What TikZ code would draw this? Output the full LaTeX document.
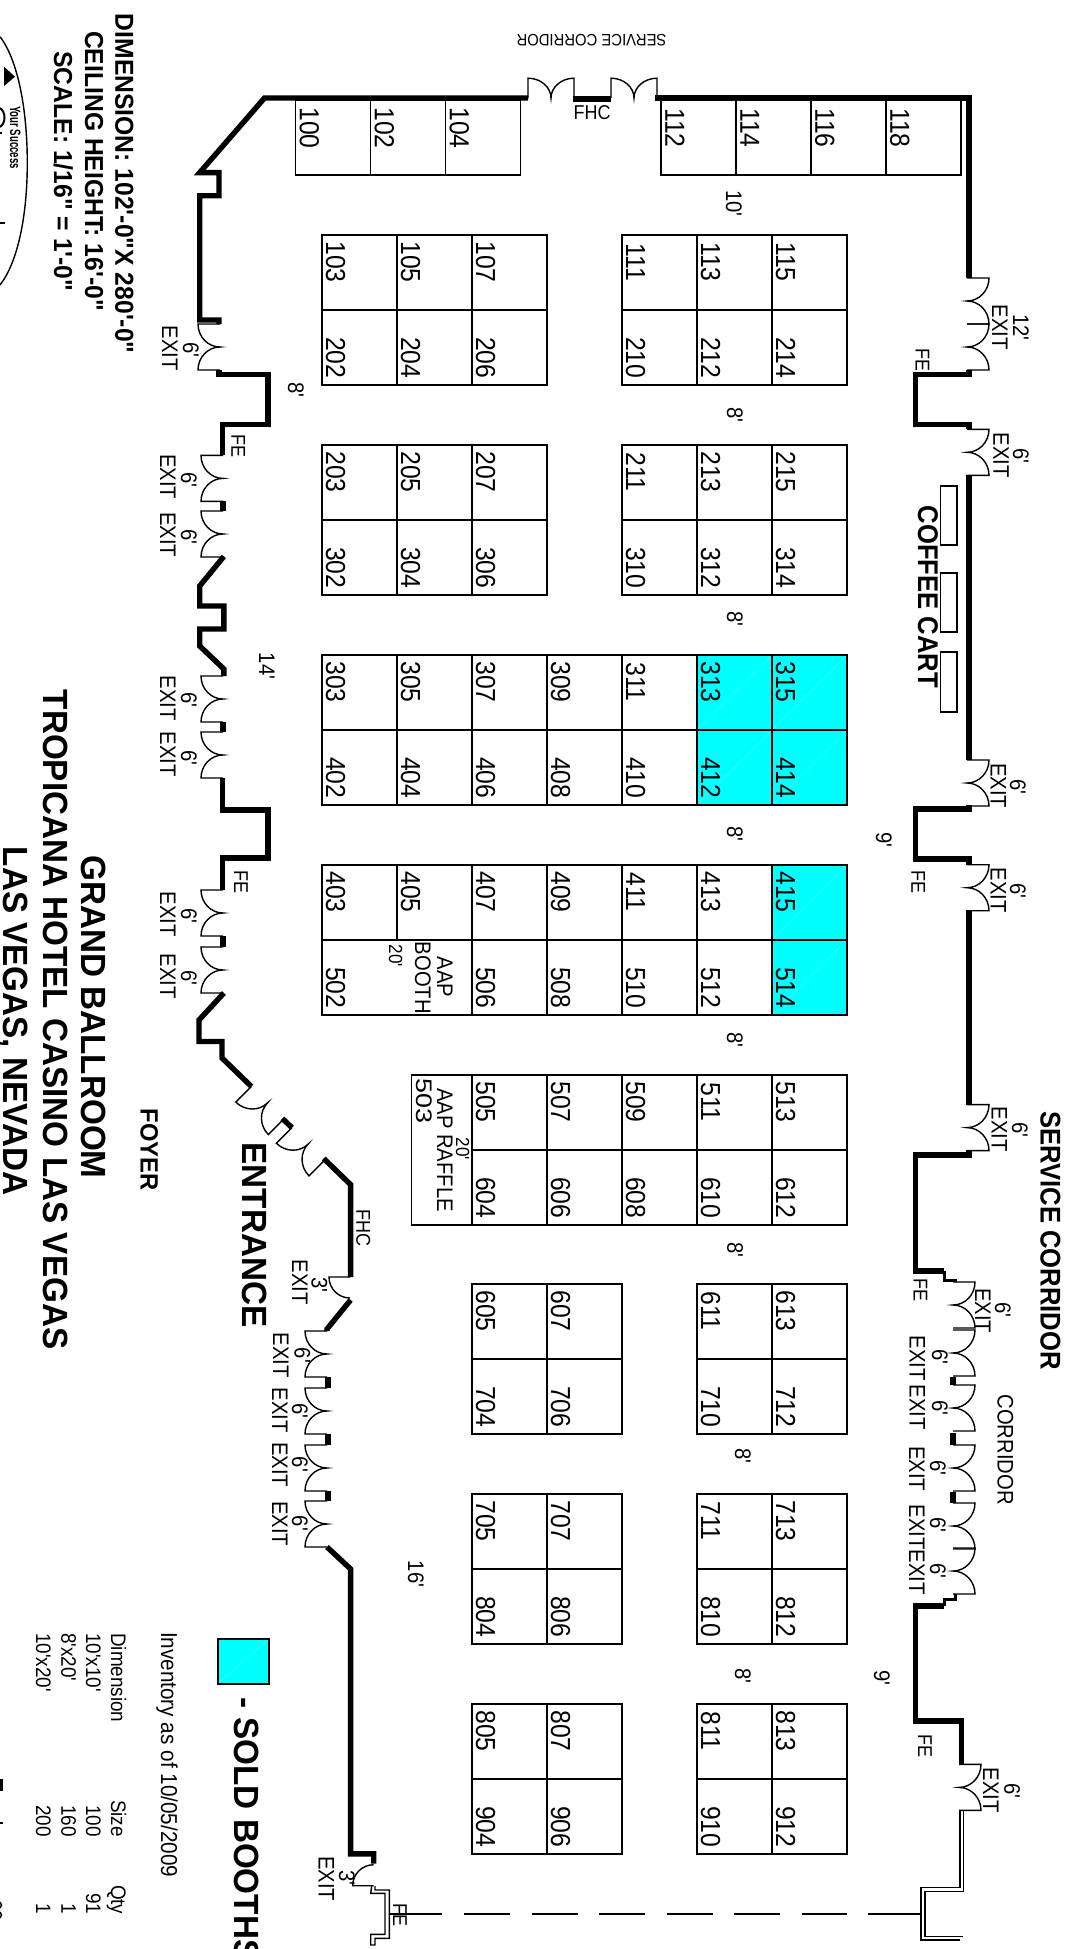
\documentclass[tikz,border=0pt]{standalone}
\usepackage{fontspec}
\newfontfamily\plansans[FakeStretch=0.9]{Liberation Sans}
\newfontfamily\headsans[FakeStretch=0.95]{Liberation Sans}
\newfontfamily\logosans[FakeStretch=0.64]{Liberation Sans}
\definecolor{soldcyan}{RGB}{0,255,255}
\tikzset{
  wall/.style={line width=5.4pt},
  doorline/.style={line width=1.4pt},
  thinwall/.style={line width=1.4pt},
  boothline/.style={line width=1.9pt},
  lbl/.style={rotate=-90,anchor=base,inner sep=0pt,font=\plansans\fontsize{22.5}{22.5}\selectfont},
  boothnum/.style={lbl,font=\plansans\fontsize{27.5}{27.5}\selectfont},
  tablelbl/.style={lbl,font=\plansans\fontsize{21}{21}\selectfont},
  headlbl/.style={lbl,font=\headsans\bfseries\fontsize{26}{26}\selectfont},
  titlelbl/.style={lbl,font=\headsans\bfseries\fontsize{35}{35}\selectfont},
  cartlbl/.style={lbl,font=\plansans\bfseries\fontsize{28.5}{28.5}\selectfont},
  exitdoor/.pic={
    \draw[doorline] (0,0) -- (-22,0) .. controls (-22,12.7) and (-12.1,23) .. (0,23)
      .. controls (-12.1,23) and (-22,33.3) .. (-22,46) -- (0,46);
  },
  singledoor/.pic={
    \draw[doorline] (0,0) -- (-21,0) .. controls (-21,11.6) and (-11.6,21) .. (0,21);
  }
}
\begin{document}
\begin{tikzpicture}[x=1pt,y=-1pt]
  \useasboundingbox (0,0) rectangle (1071,1949);

  % Define a pair of booths and a sold cell
  \def\boothpair#1#2#3#4{
    \draw[boothline] (#1,#2) rectangle ++(75,150);
    \draw[boothline] (#1,#2+75) -- ++(75,0);
    \node[boothnum] (b#3) at (#1+4,#2+27) {#3};
    \node[boothnum] (b#4) at (#1+4,#2+122.8) {#4};
  }
  \def\soldcell#1#2{
    \fill[soldcyan] (#1,#2) rectangle ++(75,75);
    \draw[soldcyan!70!white,line width=0.5pt] (#1,#2+75) -- ++(75,-75);
  }
  \def\topbooth#1#2{
    \draw[boothline] (#1,100) rectangle ++(75,75);
    \node[boothnum] (b#2) at (#1+4.3,128) {#2};
  }

  % Sold booths
  \soldcell{697}{655} \soldcell{772}{655}
  \soldcell{697}{730} \soldcell{772}{730}
  \soldcell{772}{865} \soldcell{772}{940}

  % Booths along the top wall
  \topbooth{295.5}{100} \topbooth{370.5}{102} \topbooth{445.5}{104}
  \topbooth{661}{112} \topbooth{736}{114} \topbooth{811}{116} \topbooth{886}{118}

  % First block
  \boothpair{322}{235}{103}{202} \boothpair{397}{235}{105}{204} \boothpair{472}{235}{107}{206}
  \boothpair{622}{235}{111}{210} \boothpair{697}{235}{113}{212} \boothpair{772}{235}{115}{214}
  % Second block
  \boothpair{322}{445}{203}{302} \boothpair{397}{445}{205}{304} \boothpair{472}{445}{207}{306}
  \boothpair{622}{445}{211}{310} \boothpair{697}{445}{213}{312} \boothpair{772}{445}{215}{314}
  % Third block
  \boothpair{322}{655}{303}{402} \boothpair{397}{655}{305}{404} \boothpair{472}{655}{307}{406}
  \boothpair{547}{655}{309}{408} \boothpair{622}{655}{311}{410} \boothpair{697}{655}{313}{412}
  \boothpair{772}{655}{315}{414}
  % Fourth block, with the AAP booth
  \draw[boothline] (322,865) rectangle (472,1015);
  \draw[boothline] (322,940) -- (472,940);
  \draw[boothline] (397,865) -- (397,940);
  \node[boothnum] (b403) at (326,892) {403};
  \node[boothnum] (b405) at (401,892) {405};
  \node[boothnum] (b502) at (326,987.8) {502};
  \node[lbl] (aapA) at (437,977) {AAP};
  \node[lbl] (aapB) at (415,977.8) {BOOTH};
  \node[lbl,font=\plansans\fontsize{19}{19}\selectfont] (aapC) at (389,956) {20'};
  \boothpair{472}{865}{407}{506} \boothpair{547}{865}{409}{508} \boothpair{622}{865}{411}{510}
  \boothpair{697}{865}{413}{512} \boothpair{772}{865}{415}{514}
  % Fifth block, with the raffle booth
  \draw[boothline] (411.5,1075) rectangle (472,1225);
  \node[lbl] (rafA) at (437,1150) {AAP RAFFLE};
  \node[lbl] (rafB) at (416.7,1101.4) {\scalebox{1.33}[1]{503}};
  \node[lbl,font=\plansans\fontsize{19}{19}\selectfont] (rafC) at (456,1149) {20'};
  \boothpair{472}{1075}{505}{604} \boothpair{547}{1075}{507}{606} \boothpair{622}{1075}{509}{608}
  \boothpair{697}{1075}{511}{610} \boothpair{772}{1075}{513}{612}
  % Last three blocks
  \boothpair{472}{1284}{605}{704} \boothpair{547}{1284}{607}{706}
  \boothpair{697}{1284}{611}{710} \boothpair{772}{1284}{613}{712}
  \boothpair{472}{1494}{705}{804} \boothpair{547}{1494}{707}{806}
  \boothpair{697}{1494}{711}{810} \boothpair{772}{1494}{713}{812}
  \boothpair{472}{1704}{805}{904} \boothpair{547}{1704}{807}{906}
  \boothpair{697}{1704}{811}{910} \boothpair{772}{1704}{813}{912}

  % Left side of the ballroom wall
  \draw[wall] (528,98) -- (264.5,98) -- (199.7,172.6) -- (219,172.6) -- (219,195.7)
    -- (199.7,195.7) -- (199.7,320) -- (219,320) -- (219,324);
  \draw[wall] (219,370.4) -- (219,374.6) -- (268,374.6) -- (268,424.3)
    -- (222.5,424.3) -- (222.5,455.4);
  \draw[wall] (223,501) -- (223,511);
  \draw[wall] (223.9,556.4) -- (199.7,586) -- (199.7,606) -- (223.9,606) -- (223.9,629)
    -- (199.7,629) -- (199.7,646) -- (223.9,669) -- (223.9,676);
  \draw[wall] (223,722) -- (223,732);
  \draw[wall] (222.5,778) -- (222.5,810) -- (268,810) -- (268,858) -- (222.5,858) -- (222.5,890);
  \draw[wall] (223,936) -- (223,947);
  \draw[wall] (223.9,993) -- (199,1020) -- (199,1041.5) -- (222,1041.5) -- (222,1058) -- (251.4,1086.5);
  \draw[wall] (282.4,1118.5) -- (292,1127.7);
  \draw[wall] (323.7,1158.5) -- (350.6,1184.6) -- (350.6,1277);
  \draw[wall] (350.6,1300) -- (327,1329) -- (327,1331);
  \draw[wall] (328,1377) -- (328,1388);
  \draw[wall] (328,1434) -- (328,1445);
  \draw[wall] (328,1491) -- (328,1501);
  \draw[wall] (327,1547) -- (350.6,1569) -- (350.6,1853.8) -- (373.7,1853.8) -- (373.7,1863.7);

  % Right side of the ballroom wall
  \draw[wall] (655,98) -- (969,98) -- (969,278);
  \draw[wall] (969,370.4) -- (969,374.6) -- (915.7,374.6) -- (915.7,424.3) -- (969,424.3) -- (969,429.3);
  \draw[wall] (969,474.8) -- (969,760);
  \draw[wall] (969,805) -- (969,809) -- (915.7,809) -- (915.7,859) -- (969,859) -- (969,864.7);
  \draw[wall] (969,910) -- (969,1104.6);
  \draw[wall] (969,1150) -- (969,1155) -- (915.7,1155) -- (915.7,1271) -- (944,1271);
  \draw[line width=3pt] (944,1271) -- (944,1280) -- (955,1280) -- (955,1282);
  \draw[wall] (953,1377) -- (953,1385);
  \draw[wall] (953,1433) -- (953,1445);
  \draw[wall] (953,1492) -- (953,1503);
  \draw[line width=3pt] (955,1594) -- (955,1599) -- (944,1599) -- (944,1606);
  \draw[wall] (944,1606) -- (915.7,1606) -- (915.7,1721) -- (961.3,1721) -- (961.3,1764.4);
  \draw[wall] (573,99) -- (611,99);

  % Double thin walls at the far end
  \draw[thinwall] (960,1810) -- (960,1887.7) -- (921,1887.7) -- (921,1940) -- (960,1940);
  \draw[thinwall] (963.3,1810) -- (963.3,1891.7) -- (925,1891.7) -- (925,1936.7) -- (963.3,1936.7);
  \draw[thinwall] (371.7,1886) -- (370.7,1893.3) -- (385,1893.3) -- (385,1934.3) -- (370.7,1934.3)
    -- (370.7,1945) -- (375,1945) -- (375,1938.3) -- (389.3,1938.3) -- (389.3,1890) -- (375,1890) -- (375,1886);

  % Dashed line across the room
  \draw[thinwall] (389.3,1914) -- (442,1914);
  \draw[thinwall,dash pattern=on 46pt off 21.6pt] (464,1914) -- (847,1914);
  \draw[thinwall] (868,1914) -- (921,1914);

  % Doors along the top wall
  \pic[rotate=90,xscale=-0.9] at (528,98) {exitdoor};
  \pic[rotate=90,xscale=-0.9] at (611,98) {exitdoor};
  % Doors along the left wall
  \pic at (220,324) {exitdoor};
  \pic at (223,455.4) {exitdoor};
  \pic at (223,511) {exitdoor};
  \pic at (223,676) {exitdoor};
  \pic at (223,732) {exitdoor};
  \pic at (223,890) {exitdoor};
  \pic at (223,947) {exitdoor};
  \pic[rotate=45] at (251.4,1086.5) {exitdoor};
  \pic[rotate=45] at (292,1127.7) {exitdoor};
  \pic at (350,1277) {singledoor};
  \pic at (327,1331) {exitdoor};
  \pic at (327,1388) {exitdoor};
  \pic at (327,1445) {exitdoor};
  \pic at (327,1501) {exitdoor};
  \pic[yscale=-1] at (373.7,1885.7) {singledoor};
  % Doors along the right wall
  \pic[xscale=-1] at (967,278) {exitdoor};
  \pic[xscale=-1] at (967,324) {exitdoor};
  \pic[xscale=-1] at (967,429.3) {exitdoor};
  \pic[xscale=-1] at (967,760) {exitdoor};
  \pic[xscale=-1] at (967,864.7) {exitdoor};
  \pic[xscale=-1] at (967,1104.6) {exitdoor};
  \pic[xscale=-1] at (953,1282) {exitdoor};
  \pic[xscale=-1] at (953,1330) {exitdoor};
  \pic[xscale=-1] at (953,1385) {exitdoor};
  \pic[xscale=-1] at (953,1445) {exitdoor};
  \pic[xscale=-1] at (953,1503) {exitdoor};
  \pic[xscale=-1] at (953,1548) {exitdoor};
  \pic[xscale=-1] at (959,1764.4) {exitdoor};

  % Coffee carts
  \draw[doorline] (940.6,486) rectangle (956.8,545);
  \draw[doorline] (940.6,573) rectangle (956.8,632);
  \draw[doorline] (940.6,652) rectangle (956.8,712);
  \node[cartlbl] (cart) at (918,597) {COFFEE CART};

  % Exit labels on the left
  \node[lbl] (e1) at (162,348) {EXIT};      \node[lbl] (d1) at (183,350) {6'};
  \node[lbl] (e2) at (160,476.7) {EXIT};    \node[lbl] (d2) at (181,479.8) {6'};
  \node[lbl] (e3) at (160,534.5) {EXIT};    \node[lbl] (d3) at (181,537) {6'};
  \node[lbl] (e4) at (160,698.4) {EXIT};    \node[lbl] (d4) at (181,700) {6'};
  \node[lbl] (e5) at (160,754) {EXIT};      \node[lbl] (d5) at (181,757.8) {6'};
  \node[lbl] (e6) at (160,914) {EXIT};      \node[lbl] (d6) at (181,915.7) {6'};
  \node[lbl] (e7) at (160,976) {EXIT};      \node[lbl] (d7) at (181,978) {6'};
  \node[lbl] (e8) at (292,1282) {EXIT};     \node[lbl] (d8) at (311.7,1285) {3'};
  \node[lbl] (e9) at (273,1355) {EXIT};     \node[lbl] (d9) at (294.5,1355.5) {6'};
  \node[lbl] (e10) at (272,1410) {EXIT};    \node[lbl] (d10) at (292,1411) {6'};
  \node[lbl] (e11) at (272,1464.6) {EXIT};  \node[lbl] (d11) at (292,1464.5) {6'};
  \node[lbl] (e12) at (272,1523.7) {EXIT};  \node[lbl] (d12) at (292,1523.5) {6'};
  \node[lbl] (e13) at (318.6,1878.6) {EXIT}; \node[lbl] (d13) at (339,1878) {3'};
  % Exit labels on the right
  \node[lbl] (e14) at (992,327) {EXIT};     \node[lbl] (d14) at (1013,327.6) {12'};
  \node[lbl] (e15) at (993.4,455) {EXIT};   \node[lbl] (d15) at (1013,456) {6'};
  \node[lbl] (e16) at (990.6,785.7) {EXIT}; \node[lbl] (d16) at (1010,787) {6'};
  \node[lbl] (e17) at (990.6,890) {EXIT};   \node[lbl] (d17) at (1010,891) {6'};
  \node[lbl] (e18) at (991.6,1129) {EXIT};  \node[lbl] (d18) at (1012,1130) {6'};
  \node[lbl] (e19) at (975,1310.5) {EXIT};  \node[lbl] (d19) at (995,1310) {6'};
  \node[lbl] (e20) at (909.5,1358) {EXIT};  \node[lbl] (d20) at (932,1357) {6'};
  \node[lbl] (e21) at (909.5,1407) {EXIT};  \node[lbl] (d21) at (932,1408) {6'};
  \node[lbl] (e22) at (909,1468.5) {EXIT};  \node[lbl] (d22) at (930,1468) {6'};
  \node[lbl] (e23) at (909,1527) {EXIT};    \node[lbl] (d23) at (930,1525) {6'};
  \node[lbl] (e24) at (909,1572) {EXIT};    \node[lbl] (d24) at (930,1571) {6'};
  \node[lbl] (e25) at (983,1790) {EXIT};    \node[lbl] (d25) at (1004.4,1791) {6'};

  % Fire equipment marks
  \node[lbl,font=\plansans\fontsize{20}{20}\selectfont] (fe1) at (231.4,446) {FE};
  \node[lbl,font=\plansans\fontsize{20}{20}\selectfont] (fe2) at (234,881.5) {FE};
  \node[lbl,font=\plansans\fontsize{20}{20}\selectfont] (fe3) at (393,1915) {FE};
  \node[lbl,font=\plansans\fontsize{20}{20}\selectfont] (fe4) at (915.7,359.5) {FE};
  \node[lbl,font=\plansans\fontsize{20}{20}\selectfont] (fe5) at (911.3,881.5) {FE};
  \node[lbl,font=\plansans\fontsize{20}{20}\selectfont] (fe6) at (913.7,1290) {FE};
  \node[lbl,font=\plansans\fontsize{20}{20}\selectfont] (fe7) at (918,1746) {FE};
  \node[lbl,font=\plansans\fontsize{20}{20}\selectfont] (fhc1) at (356.4,1228) {FHC};
  \node[font=\plansans\fontsize{20}{20}\selectfont,inner sep=0pt] (fhc2) at (592,112.5) {FHC};

  % Aisle widths
  \node[lbl] (w1) at (726,203.5) {10'};
  \node[lbl] (w2) at (727,415) {8'};
  \node[lbl] (w3) at (727,619) {8'};
  \node[lbl] (w4) at (727,834) {8'};
  \node[lbl] (w5) at (727,1040) {8'};
  \node[lbl] (w6) at (727.4,1250) {8'};
  \node[lbl] (w7) at (735,1456) {8'};
  \node[lbl] (w8) at (735,1675.6) {8'};
  \node[lbl] (w9) at (288,390) {8'};
  \node[lbl] (w10) at (259,666) {14'};
  \node[lbl] (w11) at (876,840) {9'};
  \node[lbl] (w12) at (874,1678) {9'};
  \node[lbl] (w13) at (408,1574) {16'};

  % Corridors and room names
  \node[font=\plansans\fontsize{16.5}{16.5}\selectfont,rotate=180,inner sep=0pt] (scTop) at (591.5,40) {SERVICE CORRIDOR};
  \node[cartlbl] (scRight) at (1040.6,1240.5) {SERVICE CORRIDOR};
  \node[lbl] (corr) at (997.5,1449.6) {CORRIDOR};
  \node[headlbl,font=\headsans\bfseries\fontsize{25}{25}\selectfont] (foyer) at (140.5,1149.5) {FOYER};
  \node[titlelbl] (entr) at (242.8,1235) {ENTRANCE};
  \node[titlelbl] (t1) at (81.6,1017) {GRAND BALLROOM};
  \node[titlelbl] (t2) at (43,1019.5) {TROPICANA HOTEL CASINO LAS VEGAS};
  \node[titlelbl] (t3) at (4,1021) {LAS VEGAS, NEVADA};

  % Room data
  \node[headlbl] (dim) at (115.4,183.7) {DIMENSION: 102'-0"X 280'-0"};
  \node[headlbl] (ceil) at (85,171) {CEILING HEIGHT: 16'-0"};
  \node[headlbl] (scale) at (54,171.3) {SCALE: 1/16" = 1'-0"};

  % Logo at the edge of the sheet
  \draw[doorline] (0,36.7) .. controls (18,60) and (27.3,110) .. (27.3,163)
    .. controls (27.3,215) and (18,262) .. (0,285);
  \fill (4,66.7) -- (15,76.7) -- (4,86) -- cycle;
  \node[lbl,font=\logosans\bfseries\fontsize{15}{15}\selectfont] (logo) at (10,137.5) {Your Success};
  \draw[line width=2pt] (0,108) .. controls (6,112) and (6,123) .. (0,127);
  \draw[line width=2pt] (0,133) -- (2,133);
  \draw[line width=2pt] (0,223) -- (5,223);

  % Legend and inventory
  \fill[soldcyan] (217.6,1639.4) rectangle (268.6,1683.7);
  \draw[soldcyan!70!white,line width=0.5pt] (217.6,1683.7) -- (268.6,1639.4);
  \draw[boothline] (217.6,1639.4) rectangle (268.6,1683.7);
  \node[titlelbl,anchor=base west] (sold) at (234,1697) {- SOLD BOOTHS};
  \node[lbl,font=\plansans\fontsize{23}{23}\selectfont] (inv) at (161,1754.6) {Inventory as of 10/05/2009};
  \node[tablelbl,anchor=base west] (colA) at (111,1633) {Dimension};
  \node[tablelbl,anchor=base west] (rowA) at (86,1633) {10'x10'};
  \node[tablelbl,anchor=base west] (rowB) at (61.3,1633) {8'x20'};
  \node[tablelbl,anchor=base west] (rowC) at (36,1633) {10'x20'};
  \node[tablelbl,anchor=base east] (colB) at (111,1837) {Size};
  \node[tablelbl,anchor=base east] (sizeA) at (86,1837) {100};
  \node[tablelbl,anchor=base east] (sizeB) at (61.3,1837) {160};
  \node[tablelbl,anchor=base east] (sizeC) at (36,1837) {200};
  \node[tablelbl,anchor=base east] (colC) at (111,1914.6) {Qty};
  \node[tablelbl,anchor=base east] (qtyA) at (86,1914.6) {91};
  \node[tablelbl,anchor=base east] (qtyB) at (61.3,1914.6) {1};
  \node[tablelbl,anchor=base east] (qtyC) at (36,1914.6) {1};
  % Cut-off last row of the table
  \fill (0,1779) rectangle (2.7,1791);
  \draw[line width=1.5pt] (0,1823) -- (2.5,1823);
  \draw[line width=1.5pt] (0,1902) .. controls (2,1904) and (2,1906) .. (0,1908);
  \draw[line width=1.5pt] (0,1912) .. controls (2,1914) and (2,1916) .. (0,1918);
\end{tikzpicture}
\end{document}
